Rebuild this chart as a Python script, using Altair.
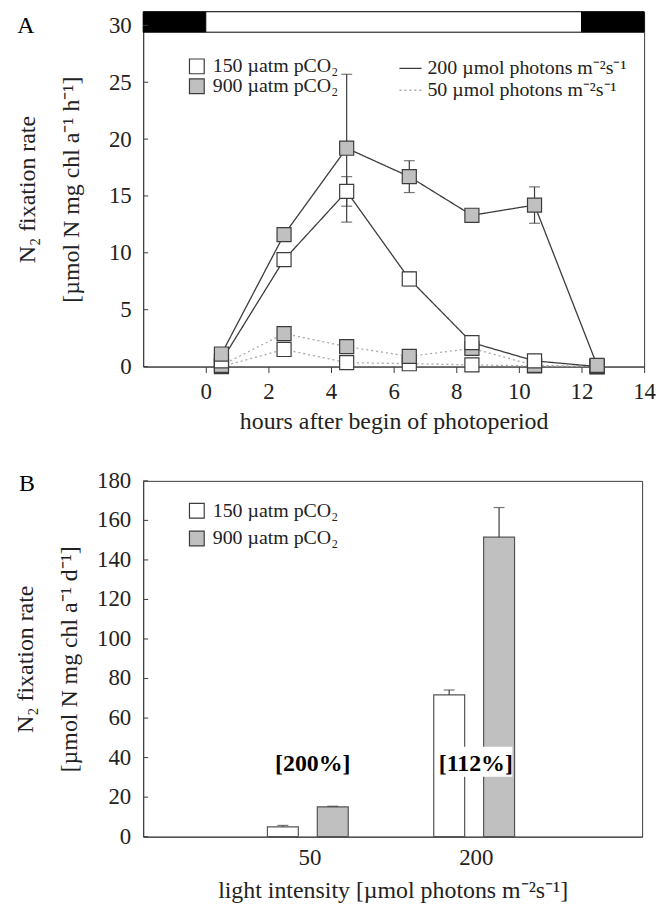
import altair as alt
import pandas as pd

FONT = "Liberation Serif"
DARK = "#3c3c3c"
GRAY = "#c0c0c0"
LIGHTLINE = "#a8a8a8"

# ---------------- Panel A data ----------------
hours = [0.5, 2.5, 4.5, 6.5, 8.5, 10.5, 12.5]
hi150 = [0.5, 9.4, 15.4, 7.7, 2.1, 0.5, 0.0]
hi150_err = [0.3, 0.4, 1.3, 0.6, 0.3, 0.3, 0.1]
hi900 = [1.1, 11.6, 19.2, 16.7, 13.3, 14.2, 0.1]
hi900_err = [0.3, 0.4, 6.5, 1.4, 0.3, 1.6, 0.2]
lo150 = [0.0, 1.5, 0.35, 0.25, 0.15, 0.05, 0.0]
lo150_err = [0.1, 0.6, 0.3, 0.2, 0.1, 0.1, 0.0]
lo900 = [0.1, 2.9, 1.75, 0.9, 1.6, 0.1, 0.0]
lo900_err = [0.1, 0.3, 0.2, 0.3, 0.2, 0.1, 0.0]

P150 = "150 µatm pCO₂"
P900 = "900 µatm pCO₂"
L200 = "200 µmol photons m⁻²s⁻¹"
L50 = "50 µmol photons m⁻²s⁻¹"

period_start = [-2, 0, 12]
period_end = [0, 12, 14]
period_fill = ["black", "white", "black"]

yticksA = [0, 5, 10, 15, 20, 25, 30]
xticksA = [0, 2, 4, 6, 8, 10, 12, 14]

# ---------------- Panel B data ----------------
light_groups = ["50", "200"]
b150 = [5.0, 71.7]
b150_err = [0.7, 2.5]
b900 = [15.1, 151.5]
b900_err = [0.3, 15.0]
pct_labels = ["[200%]", "[112%]"]
yticksB = [0, 20, 40, 60, 80, 100, 120, 140, 160, 180]

# ---------------- build tables ----------------
rows = []
for light, pco2, vals, errs in [
    (L50, P150, lo150, lo150_err),
    (L50, P900, lo900, lo900_err),
    (L200, P150, hi150, hi150_err),
    (L200, P900, hi900, hi900_err),
]:
    for h, v, e in zip(hours, vals, errs):
        rows.append(dict(hour=h, pco2=pco2, light=light, value=v,
                         lo=max(v - e, 0), hi=v + e, series=light + pco2))
dfA = pd.DataFrame(rows)
dfA["order"] = range(len(dfA))

dfPeriod = pd.DataFrame(dict(x=period_start, x2=period_end, fill=period_fill))
dfYtA = pd.DataFrame(dict(value=yticksA))

fill_scale = alt.Scale(domain=[P150, P900], range=["white", GRAY])

scXA = alt.Scale(domain=[-2, 14], nice=False)
axXA = alt.Axis(values=xticksA, title="hours after begin of photoperiod",
                tickSize=6, labelPadding=8, titlePadding=6, grid=False,
                labelFlush=False, labelOverlap=False)
scYA = alt.Scale(domain=[0, 31.2], nice=False)
axYA = alt.Axis(values=yticksA, tickSize=0, labelPadding=12, grid=False,
                labelOverlap=False, labelFlush=False,
                title=["N₂ fixation rate", "[µmol N mg chl a⁻¹ h⁻¹]"],
                titleLineHeight=44, titlePadding=25)


def XA(f):
    return alt.X(f, scale=scXA, axis=axXA)


def YA(f):
    return alt.Y(f, scale=scYA, axis=axYA)


bar = alt.Chart(dfPeriod).mark_rect(stroke="black", strokeWidth=1).encode(
    x=XA("x:Q"), x2="x2:Q",
    y=alt.datum(29.4), y2=alt.datum(31.2),
    fill=alt.Fill("fill:N", scale=None),
)

leg_light = dict(title=None, orient="none", legendX=257, legendY=45,
                 symbolSize=500, symbolStrokeWidth=1.3, labelLimit=400,
                 labelFontSize=20, labelFont=FONT, rowPadding=0, labelOffset=5)

lines = alt.Chart(dfA).mark_line(strokeWidth=1.3).encode(
    x=XA("hour:Q"), y=YA("value:Q"),
    color=alt.Color("light:N", scale=alt.Scale(domain=[L200, L50], range=[DARK, LIGHTLINE]),
                    legend=alt.Legend(**leg_light)),
    strokeDash=alt.StrokeDash("light:N", scale=alt.Scale(domain=[L200, L50], range=[[1, 0], [2, 3]]),
                              legend=alt.Legend(**leg_light)),
    detail="pco2:N",
)

err_rule = alt.Chart(dfA).mark_rule(color=DARK, strokeWidth=1.2).encode(
    x=XA("hour:Q"), y=YA("lo:Q"), y2="hi:Q")
cap_lo = alt.Chart(dfA).mark_tick(color=DARK, orient="horizontal", size=11, thickness=1.2).encode(
    x=XA("hour:Q"), y=YA("lo:Q"))
cap_hi = alt.Chart(dfA).mark_tick(color=DARK, orient="horizontal", size=11, thickness=1.2).encode(
    x=XA("hour:Q"), y=YA("hi:Q"))

points = alt.Chart(dfA).mark_point(shape="square", filled=True, size=200, opacity=1,
                                   stroke=DARK, strokeWidth=1.2).encode(
    x=XA("hour:Q"), y=YA("value:Q"),
    fill=alt.Fill("pco2:N", scale=fill_scale,
                  legend=alt.Legend(title=None, orient="none", legendX=44, legendY=45,
                                    symbolType="square", symbolSize=220, labelLimit=400,
                                    symbolStrokeColor=DARK, symbolStrokeWidth=1.2,
                                    labelFontSize=20, labelFont=FONT, rowPadding=0,
                                    labelOffset=6)),
    order="order:Q",
)

ytA = alt.Chart(dfYtA).mark_rule(color=DARK).encode(
    y=YA("value:Q"), x=alt.value(0), x2=alt.value(5))

labelA = alt.Chart(pd.DataFrame(dict(t=["A"]))).mark_text(
    fontSize=24, font=FONT, align="center", baseline="middle").encode(
    text="t:N", x=alt.value(-118), y=alt.value(14))

chartA = alt.layer(bar, lines, err_rule, cap_lo, cap_hi, points, ytA, labelA).resolve_scale(
    color="independent", strokeDash="independent", fill="independent"
).properties(width=504, height=357)

# ---------------- Panel B ----------------
offsets = {P150: -0.16, P900: 0.14}
halfw = 0.093
rowsB = []
for pco2, vals, errs in [(P150, b150, b150_err), (P900, b900, b900_err)]:
    for i, (g, v, e) in enumerate(zip(light_groups, vals, errs)):
        pos = i + 1 + offsets[pco2]
        rowsB.append(dict(group=g, pco2=pco2, value=v, hi=v + e, pos=pos,
                          x=pos - halfw, x2=pos + halfw))
dfB = pd.DataFrame(rowsB)
dfAnn = pd.DataFrame(dict(pos=[1.02, 2.0], label=pct_labels, value=[36.5, 36.5]))
dfYtB = pd.DataFrame(dict(value=yticksB, label=[str(v) for v in yticksB]))

scXB = alt.Scale(domain=[0, 3], nice=False)
axXB = alt.Axis(values=[1, 2], labelExpr="datum.value == 1 ? '50' : '200'",
                tickSize=0, labelPadding=10, grid=False, labelFlush=False,
                labelOverlap=False,
                title="light intensity [µmol photons m⁻²s⁻¹]", titlePadding=9)
scYB = alt.Scale(domain=[0, 180], nice=False)
axYB = alt.Axis(values=yticksB, tickSize=0, labels=False, grid=False,
                title=["N₂ fixation rate", "[µmol N mg chl a⁻¹ d⁻¹]"],
                titleLineHeight=44, titlePadding=62)


def XB(f):
    return alt.X(f, scale=scXB, axis=axXB)


def YB(f):
    return alt.Y(f, scale=scYB, axis=axYB)


bars = alt.Chart(dfB).mark_rect(stroke="#555555", strokeWidth=1.2).encode(
    x=XB("x:Q"), x2="x2:Q", y=YB("value:Q"), y2=alt.datum(0),
    fill=alt.Fill("pco2:N", scale=fill_scale,
                  legend=alt.Legend(title=None, orient="none", legendX=44, legendY=20,
                                    symbolType="square", symbolSize=220, labelLimit=400,
                                    symbolStrokeColor=DARK, symbolStrokeWidth=1.2,
                                    labelFontSize=20, labelFont=FONT, rowPadding=8,
                                    labelOffset=6)),
)
errB = alt.Chart(dfB).mark_rule(color=DARK, strokeWidth=1.2).encode(
    x=XB("pos:Q"), y=YB("value:Q"), y2="hi:Q")
capB = alt.Chart(dfB).mark_tick(color=DARK, orient="horizontal", size=11, thickness=1.2).encode(
    x=XB("pos:Q"), y=YB("hi:Q"))
ann_bg = alt.Chart(dfAnn.iloc[[1]]).mark_rect(fill="white").encode(
    x=XB("x1:Q"), x2="x2:Q", y=alt.datum(30.3), y2=alt.datum(45.5)
).transform_calculate(x1="datum.pos - 0.22", x2="datum.pos + 0.22")
ann = alt.Chart(dfAnn).mark_text(fontSize=24, font=FONT, fontWeight="bold",
                                 baseline="middle", align="center").encode(
    x=XB("pos:Q"), y=YB("value:Q"), text="label:N")
ytB = alt.Chart(dfYtB).mark_rule(color=DARK).encode(
    y=YB("value:Q"), x=alt.value(0), x2=alt.value(5))
ylabB = alt.Chart(dfYtB).mark_text(fontSize=23, font=FONT, align="right",
                                   baseline="middle", color="#222222").encode(
    y=YB("value:Q"), x=alt.value(-12), text="label:N")
labelB = alt.Chart(pd.DataFrame(dict(t=["B"]))).mark_text(
    fontSize=24, font=FONT, align="center", baseline="middle").encode(
    text="t:N", x=alt.value(-117), y=alt.value(3))

chartB = alt.layer(bars, errB, capB, ann_bg, ann, ytB, ylabB, labelB).properties(width=502, height=358)

chart = alt.vconcat(chartA, chartB, spacing=35).resolve_scale(
    fill="independent", color="independent", strokeDash="independent"
).resolve_legend(fill="independent", color="independent", strokeDash="independent"
).properties(padding={"left": 5, "top": 0, "right": 5, "bottom": 0}
).configure_view(stroke=DARK, strokeWidth=1
).configure_axis(
    labelFont=FONT, titleFont=FONT, labelFontSize=23, titleFontSize=24,
    titleFontWeight="normal", labelColor="#222222", titleColor="#222222",
    domainColor=DARK, tickColor=DARK, labelOverlap=False
).configure_legend(labelColor="#222222")

chart.save("out.html", embed_options={"renderer": "svg", "actions": False})
